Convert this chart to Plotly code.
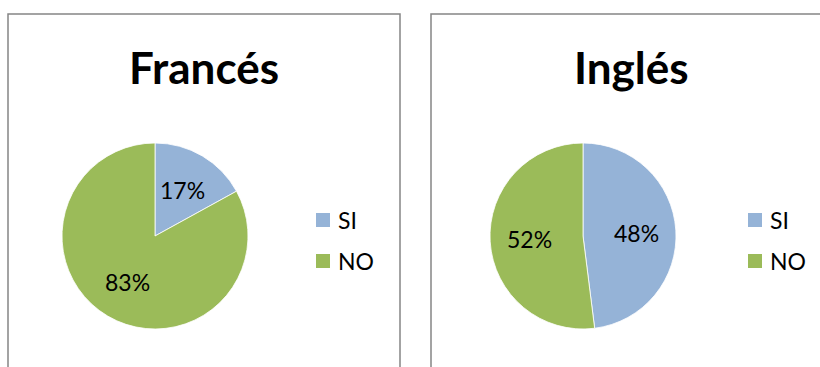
import math
import plotly.graph_objects as go

W, H = 820, 367

# Data
categories = ["SI", "NO"]
frances = [17, 83]
ingles = [48, 52]
colors = ["#95B3D7", "#9BBB59"]
titles = ["Francés", "Inglés"]

FONT = "Lato, Carlito, Calibri, sans-serif"


def px_x(v):
    return v / W


def px_y(v):
    return 1 - v / H


fig = go.Figure()
shapes = []
annotations = []

# pie boxes in pixels: (left, right, top, bottom)
boxes = [(62, 248, 143, 329), (490, 676, 143, 329)]
for vals, (l, r, t, b) in zip([frances, ingles], boxes):
    fig.add_trace(go.Pie(
        labels=categories,
        values=vals,
        sort=False,
        direction="clockwise",
        rotation=0,
        marker=dict(colors=colors, line=dict(color="white", width=0.8)),
        textinfo="none",
        domain=dict(x=[px_x(l), px_x(r)], y=[px_y(b), px_y(t)]),
        showlegend=False,
        hoverinfo="label+percent",
    ))

    # percentage labels placed along each slice's mid-angle
    cx, cy, rad = (l + r) / 2, (t + b) / 2, (r - l) / 2
    total = sum(vals)
    start = 0.0
    for v in vals:
        mid = (start + v / 2) / total * 2 * math.pi
        start += v
        lx = cx + 0.58 * rad * math.sin(mid)
        ly = cy - 0.58 * rad * math.cos(mid)
        annotations.append(dict(text=f"{round(v / total * 100)}%", x=px_x(lx), y=px_y(ly),
                                xref="paper", yref="paper", xanchor="center", yanchor="middle",
                                showarrow=False,
                                font=dict(family=FONT, size=23, color="black")))

# panel frames
panels = [(8, 400), (431, 840)]
for (l, r) in panels:
    shapes.append(dict(type="rect", xref="paper", yref="paper",
                       x0=px_x(l), x1=px_x(r), y0=px_y(380), y1=px_y(14),
                       line=dict(color="#858585", width=1.5), fillcolor="rgba(0,0,0,0)"))

# titles
title_x = [204, 631]
for tx, tt in zip(title_x, titles):
    annotations.append(dict(text=f"<b>{tt}</b>", x=px_x(tx), y=px_y(67), xref="paper", yref="paper",
                            xanchor="center", yanchor="middle", showarrow=False,
                            font=dict(family=FONT, size=44, color="black")))

# legends
legend_x = [316, 748]
legend_y = [220, 261]
for lx in legend_x:
    for cat, col, ly in zip(categories, colors, legend_y):
        shapes.append(dict(type="rect", xref="paper", yref="paper",
                           x0=px_x(lx), x1=px_x(lx + 14), y0=px_y(ly + 7), y1=px_y(ly - 7),
                           line=dict(width=0), fillcolor=col))
        annotations.append(dict(text=cat, x=px_x(lx + 20), y=px_y(ly), xref="paper", yref="paper",
                                xanchor="left", yanchor="middle", showarrow=False,
                                font=dict(family=FONT, size=23, color="black")))

fig.update_layout(
    width=W, height=H,
    margin=dict(l=0, r=0, t=0, b=0),
    paper_bgcolor="white",
    plot_bgcolor="white",
    shapes=shapes,
    annotations=annotations,
    showlegend=False,
)

fig.write_html("out.html")
